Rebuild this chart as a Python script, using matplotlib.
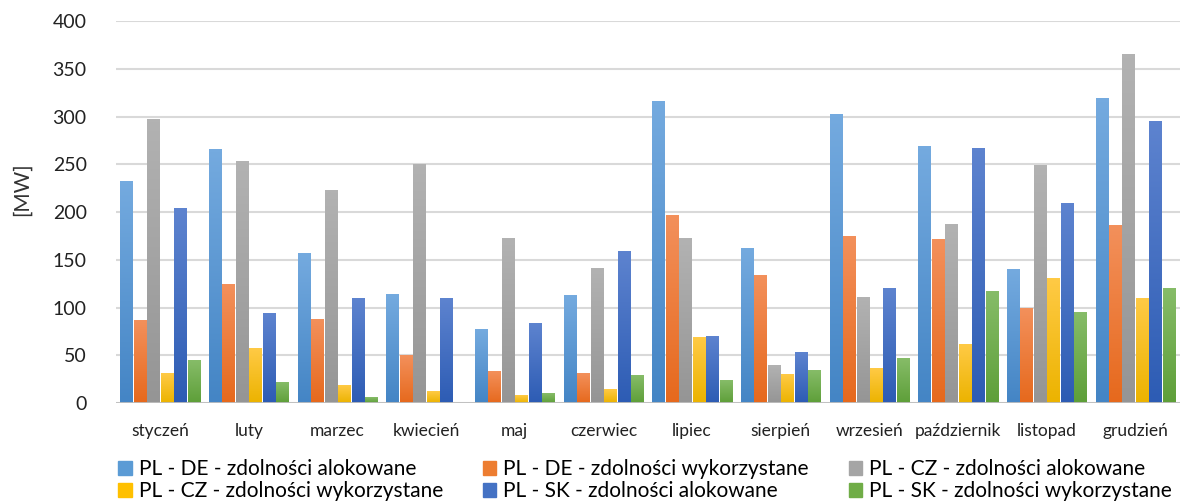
import numpy as np
import matplotlib
matplotlib.use("Agg")
import matplotlib.pyplot as plt
from matplotlib.colors import LinearSegmentedColormap

plt.rcParams['font.family'] = ['Lato', 'DejaVu Sans']

months = ["styczeń", "luty", "marzec", "kwiecień", "maj", "czerwiec",
          "lipiec", "sierpień", "wrzesień", "październik", "listopad", "grudzień"]

series_names = [
    "PL - DE - zdolności alokowane",
    "PL - DE - zdolności wykorzystane",
    "PL - CZ - zdolności alokowane",
    "PL - CZ - zdolności wykorzystane",
    "PL - SK - zdolności alokowane",
    "PL - SK - zdolności wykorzystane",
]

pl_de_alok = [232, 265, 157, 114, 77, 113, 316, 162, 302, 269, 140, 319]
pl_de_wyk = [86, 124, 87, 50, 33, 31, 196, 133, 174, 171, 99, 186]
pl_cz_alok = [297, 253, 222, 250, 172, 141, 172, 39, 110, 187, 249, 365]
pl_cz_wyk = [31, 57, 18, 12, 8, 14, 69, 30, 36, 61, 130, 109]
pl_sk_alok = [204, 94, 109, 109, 83, 159, 70, 53, 120, 266, 209, 295]
pl_sk_wyk = [45, 21, 6, 0, 10, 29, 24, 34, 47, 117, 95, 120]

values = [pl_de_alok, pl_de_wyk, pl_cz_alok, pl_cz_wyk, pl_sk_alok, pl_sk_wyk]

# (top colour, bottom colour) for each series' gradient
grads = [
    ("#74AADF", "#4485C5"),
    ("#F3905B", "#E6691D"),
    ("#B2B2B2", "#959595"),
    ("#FFCA45", "#ECB300"),
    ("#5D83CF", "#2D5CB4"),
    ("#86BC68", "#5E9F39"),
]
legend_colors = ["#5B9BD5", "#ED7D31", "#A5A5A5", "#FFC000", "#4472C4", "#70AD47"]

fig = plt.figure(figsize=(11.82, 5.04), dpi=100)
ax = fig.add_axes([0.098, 0.2, 0.9, 0.758])

x = np.arange(len(months))
step = 0.152
width = 0.138
gradient = np.linspace(0, 1, 64).reshape(-1, 1)

for i, (vals, (ctop, cbot)) in enumerate(zip(values, grads)):
    pos = x - 2.5 * step + i * step
    bars = ax.bar(pos, vals, width, color='none', edgecolor='none', zorder=3)
    cmap = LinearSegmentedColormap.from_list("g%d" % i, [cbot, ctop])
    for b in bars:
        h = b.get_height()
        if h <= 0:
            continue
        x0 = b.get_x()
        ax.imshow(gradient, cmap=cmap, origin='lower', aspect='auto',
                  extent=(x0, x0 + b.get_width(), 0, h), zorder=3,
                  interpolation='bilinear')

ax.set_xlim(-0.5, len(months) - 0.5)
ax.set_ylim(0, 400)
ax.set_yticks(np.arange(0, 401, 50))
ax.set_xticks(x)
ax.set_xticklabels(months, fontsize=12.5)
ax.tick_params(axis='y', labelsize=14, length=0, pad=21, colors='#222222')
ax.tick_params(axis='x', length=0, pad=14, colors='#222222')
ax.grid(axis='y', color='#D9D9D9', linewidth=1.5, zorder=0)
ax.axhline(0, color='#BFBFBF', linewidth=2, zorder=4)
for s in ax.spines.values():
    s.set_visible(False)
ax.set_ylabel("[MW]", fontsize=15, color='#333333')
ax.yaxis.set_label_coords(-0.079, 0.56)

# legend fills column by column, so reorder to read row by row
order = [0, 3, 1, 4, 2, 5]
handles = [plt.Rectangle((0, 0), 1, 1, color=legend_colors[k]) for k in order]
labels = [series_names[k] for k in order]
ax.legend(handles, labels, loc='upper left', bbox_to_anchor=(0.002, -0.146),
          ncol=3, frameon=False, fontsize=15, handlelength=0.65, handleheight=0.65,
          handletextpad=0.35, columnspacing=1.9, labelspacing=0.1, borderaxespad=0,
          borderpad=0)

fig.savefig("out.png", dpi=100)
